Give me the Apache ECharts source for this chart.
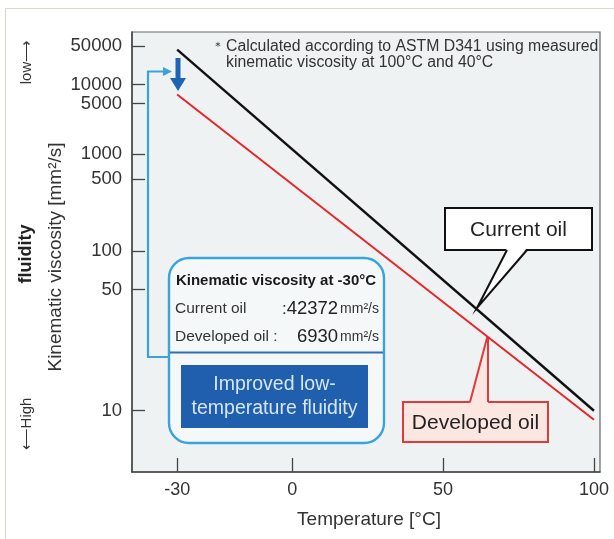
<!DOCTYPE html>
<html>
<head>
<meta charset="utf-8">
<script src="https://cdn.jsdelivr.net/npm/echarts@6/dist/echarts.min.js"></script>
<style>
html,body{margin:0;padding:0;background:#fff;}
#chart{width:614px;height:539px;}
</style>
</head>
<body>
<div id="chart"></div>
<script>
// ---- data ----
const temps = [-30, 100];                 // °C
const currentOil = [42372, 10.0];         // mm²/s
const developedOil = [6930, 9.1];         // mm²/s
const xTicks = [-30, 0, 50, 100];
const yTicks = [10, 50, 100, 500, 1000, 5000, 10000, 50000];

// ASTM D341 viscosity scale: log(log(v + 0.7))
function astm(v) { return Math.log10(Math.log10(v + 0.7)); }
// temperature axis of the original chart is stretched below 0 °C
const NEG_SCALE = 1.271;
function xPos(t) { return t < 0 ? t * NEG_SCALE : t; }

function nearestLabel(val, ticks, fn) {
  let best = ticks[0], d = Infinity;
  ticks.forEach(t => { const dd = Math.abs(fn(t) - val); if (dd < d) { d = dd; best = t; } });
  return String(best);
}

const chart = echarts.init(document.getElementById('chart'), null, {renderer: 'canvas'});
const FONT = '"Liberation Sans", Arial, sans-serif';

const option = {
  animation: false,
  backgroundColor: '#ffffff',
  grid: {
    left: 132, top: 32, right: 14, bottom: 67,
    show: true, backgroundColor: '#eef2f2', borderColor: '#666', borderWidth: 1.2
  },
  xAxis: {
    type: 'value', min: -53.1, max: 102.0,
    axisLine: {show: true, onZero: false, lineStyle: {color: '#444', width: 1.5}},
    splitLine: {show: false},
    axisTick: {show: true, inside: true, length: 14, lineStyle: {color: '#444', width: 1.3},
      customValues: xTicks.map(xPos)},
    axisLabel: {show: true, fontSize: 18, color: '#333', fontFamily: FONT, margin: 9,
      customValues: xTicks.map(xPos),
      formatter: v => nearestLabel(v, xTicks, xPos)}
  },
  yAxis: {
    type: 'value', min: -0.0982, max: 0.6973,
    axisLine: {show: true, onZero: false, lineStyle: {color: '#444', width: 1.5}},
    splitLine: {show: false},
    axisTick: {show: true, inside: true, length: 13, lineStyle: {color: '#444', width: 1.3},
      customValues: yTicks.map(astm)},
    axisLabel: {show: true, fontSize: 18.5, color: '#333', fontFamily: FONT, margin: 10,
      customValues: yTicks.map(astm),
      formatter: v => nearestLabel(v, yTicks, astm)}
  },
  series: [
    {
      name: 'Current oil', type: 'line', showSymbol: false, z: 3,
      lineStyle: {color: '#111', width: 2.4},
      data: temps.map((t, i) => [xPos(t), astm(currentOil[i])])
    },
    {
      name: 'Developed oil', type: 'line', showSymbol: false, z: 3,
      lineStyle: {color: '#e8262a', width: 2},
      data: temps.map((t, i) => [xPos(t), astm(developedOil[i])])
    }
  ],
  graphic: [
    // outer frame
    {type: 'polyline', shape: {points: [[5.5, 539], [5.5, 8.5], [614, 8.5]]}, style: {stroke: '#d5dccb', lineWidth: 1.2, fill: null}},
    // side texts
    {type: 'text', x: 27, y: 62, rotation: Math.PI / 2,
      style: {text: 'low⟶', font: '15px ' + FONT, fill: '#333', align: 'center', verticalAlign: 'middle'}},
    {type: 'text', x: 26, y: 254, rotation: Math.PI / 2,
      style: {text: 'fluidity', font: 'bold 18px ' + FONT, fill: '#222', align: 'center', verticalAlign: 'middle'}},
    {type: 'text', x: 27, y: 424, rotation: Math.PI / 2,
      style: {text: '⟵High', font: '15px ' + FONT, fill: '#333', align: 'center', verticalAlign: 'middle'}},
    {type: 'text', x: 56, y: 257, rotation: Math.PI / 2,
      style: {text: 'Kinematic viscosity [mm²/s]', font: '19px ' + FONT, fill: '#333', align: 'center', verticalAlign: 'middle'}},
    {type: 'text', x: 369, y: 520,
      style: {text: 'Temperature [°C]', font: '19px ' + FONT, fill: '#333', align: 'center', verticalAlign: 'middle'}},
    // note
    {type: 'text', x: 212, y: 47,
      style: {text: '＊', font: '12px ' + FONT, fill: '#333', align: 'left', verticalAlign: 'middle'}},
    {type: 'text', x: 226, y: 47,
      style: {text: 'Calculated according to ASTM D341 using measured', font: '15.8px ' + FONT, fill: '#333', align: 'left', verticalAlign: 'middle'}},
    {type: 'text', x: 226, y: 63,
      style: {text: 'kinematic viscosity at 100°C and 40°C', font: '15.8px ' + FONT, fill: '#333', align: 'left', verticalAlign: 'middle'}},
    // blue bracket
    {type: 'polyline', shape: {points: [[169, 357], [148, 357], [148, 71.5], [164, 71.5]]}, style: {stroke: '#3aa3dd', lineWidth: 2.2, fill: null}},
    {type: 'polygon', shape: {points: [[163, 67], [172, 71.5], [163, 76]]}, style: {fill: '#3aa3dd'}},
    // dark blue arrow
    {type: 'rect', shape: {x: 175.5, y: 58, width: 5, height: 22}, style: {fill: '#1f63b5'}},
    {type: 'polygon', shape: {points: [[170, 78], [186, 78], [178, 91]]}, style: {fill: '#1f63b5'}},
    // info box
    {type: 'rect', shape: {x: 169, y: 258, width: 215, height: 185, r: 20}, style: {fill: '#f5f8f9', stroke: '#3aa3dd', lineWidth: 2.4}},
    {type: 'text', x: 276, y: 281,
      style: {text: 'Kinematic viscosity at -30°C', font: 'bold 15px ' + FONT, fill: '#1a1a1a', align: 'center', verticalAlign: 'middle'}},
    {type: 'text', x: 175, y: 309,
      style: {text: 'Current oil', font: '15.5px ' + FONT, fill: '#333', align: 'left', verticalAlign: 'middle'}},
    {type: 'text', x: 379, y: 309,
      style: {text: ':{n|42372}{u|mm²/s}', font: '17px ' + FONT, fill: '#333', align: 'right', verticalAlign: 'middle',
        rich: {n: {fontSize: 18.5, fontFamily: FONT, fill: '#222', padding: [0, 2, 0, 0]}, u: {fontSize: 14, fontFamily: FONT, fill: '#333'}}}},
    {type: 'text', x: 175, y: 337,
      style: {text: 'Developed oil :', font: '15.5px ' + FONT, fill: '#333', align: 'left', verticalAlign: 'middle'}},
    {type: 'text', x: 379, y: 337,
      style: {text: '{n|6930}{u|mm²/s}', font: '17px ' + FONT, fill: '#333', align: 'right', verticalAlign: 'middle',
        rich: {n: {fontSize: 18.5, fontFamily: FONT, fill: '#222', padding: [0, 2, 0, 0]}, u: {fontSize: 14, fontFamily: FONT, fill: '#333'}}}},
    {type: 'line', shape: {x1: 170, y1: 352.5, x2: 383, y2: 352.5}, style: {stroke: '#2f6fb8', lineWidth: 2}},
    {type: 'rect', shape: {x: 181, y: 365, width: 187, height: 63}, style: {fill: '#1f5fae'}},
    {type: 'text', x: 274.5, y: 385,
      style: {text: 'Improved low-', font: '19.5px ' + FONT, fill: '#d6e6f5', align: 'center', verticalAlign: 'middle'}},
    {type: 'text', x: 274.5, y: 409,
      style: {text: 'temperature fluidity', font: '19.5px ' + FONT, fill: '#d6e6f5', align: 'center', verticalAlign: 'middle'}},
    // Current oil callout
    {type: 'rect', shape: {x: 445, y: 208, width: 147, height: 42}, style: {fill: '#ffffff', stroke: '#111', lineWidth: 2}},
    {type: 'polygon', shape: {points: [[507, 248], [477, 308], [527, 248]]}, style: {fill: '#ffffff'}},
    {type: 'polyline', shape: {points: [[507, 250], [477, 308], [527, 250]]}, style: {stroke: '#111', lineWidth: 2, fill: null}},
    {type: 'text', x: 518.5, y: 230,
      style: {text: 'Current oil', font: '21px ' + FONT, fill: '#222', align: 'center', verticalAlign: 'middle'}},
    // Developed oil callout
    {type: 'rect', shape: {x: 403, y: 402, width: 145, height: 40}, style: {fill: '#fbe6e2', stroke: '#e03a3a', lineWidth: 2}},
    {type: 'polygon', shape: {points: [[470, 404], [487, 338], [488, 404]]}, style: {fill: '#fbe6e2'}},
    {type: 'polyline', shape: {points: [[470, 402], [487, 338], [488, 338], [488, 402]]}, style: {stroke: '#e03a3a', lineWidth: 2, fill: null}},
    {type: 'text', x: 475.5, y: 423,
      style: {text: 'Developed oil', font: '21px ' + FONT, fill: '#222', align: 'center', verticalAlign: 'middle'}}
  ]
};
chart.setOption(option);
</script>
</body>
</html>
